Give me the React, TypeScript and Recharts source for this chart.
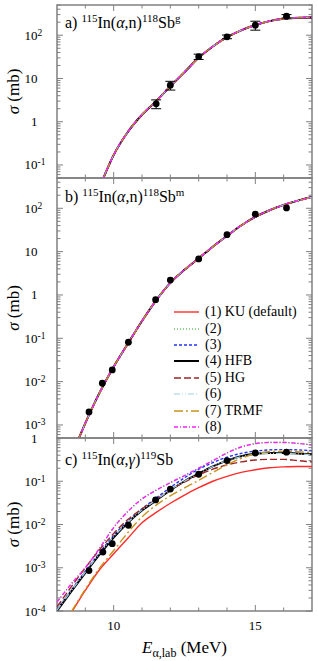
import {
  ComposedChart,
  ErrorBar,
  Legend,
  Line,
  ReferenceArea,
  Scatter,
  XAxis,
  YAxis,
} from "recharts";

const FONT = "'Liberation Serif', 'Times New Roman', 'DejaVu Serif', serif";
const GREY = "#808080";
const PLOT_W = 255;

// x axis (E alpha, lab in MeV)
const xTicks = [9, 10, 11, 12, 13, 14, 15, 16];

// a) 115In(a,n)118Sb g : all level densities give the same curve
const energyA = [9.5, 10, 10.5, 11, 11.5, 12, 12.5, 13, 13.5, 14, 14.5, 15, 15.5, 16, 16.5, 17];
const sigmaA = [0.03, 0.17, 0.58, 1.45, 3.0, 6.6, 14, 30, 55, 90, 130, 172, 212, 240, 255, 258];
const expEA = [11.5, 12.0, 13.0, 14.0, 15.0, 16.1];
const expSA = [2.6, 7.0, 32, 92, 171, 275];
const expErrA = [0.6, 1.6, 4.5, 9, 40, 25];
const majorsA = [0.1, 1, 10, 100];

// b) 115In(a,n)118Sb m
const energyB = [8.5, 9, 9.5, 10, 10.5, 11, 11.5, 12, 12.5, 13, 13.5, 14, 14.5, 15, 15.5, 16, 16.5, 17];
const sigmaB = [1.8e-4, 1.1e-3, 5.5e-3, 2.2e-2, 7.5e-2, 0.25, 0.75, 1.9, 3.8, 7.0, 13, 23, 40, 63, 90, 120, 150, 182];
const expEB = [9.13, 9.6, 9.95, 10.52, 11.48, 12.0, 13.0, 14.0, 15.0, 16.1];
const expSB = [2.0e-3, 9.2e-3, 1.86e-2, 8.1e-2, 0.78, 2.2, 6.8, 24.6, 73, 102];
const majorsB = [1e-3, 1e-2, 0.1, 1, 10, 100];

// c) 115In(a,g)119Sb
const energyC = [8, 8.5, 9, 9.5, 10, 10.5, 11, 11.5, 12, 12.5, 13, 13.5, 14, 14.5, 15, 15.5, 16, 16.5, 17];
const ku = [null, 9e-5, 3e-4, 9e-4, 2.1e-3, 4.8e-3, 1.1e-2, 1.9e-2, 3.1e-2, 4.8e-2, 7.1e-2, 0.1, 0.13, 0.16, 0.185, 0.205, 0.215, 0.22, 0.22];
const ld2 = [1.6e-4, 4.2e-4, 1.0e-3, 2.8e-3, 8.5e-3, 2.0e-2, 3.9e-2, 6.2e-2, 9.3e-2, 0.135, 0.2, 0.3, 0.45, 0.62, 0.74, 0.79, 0.79, 0.75, 0.69];
const ld3 = [1.1e-4, 3.0e-4, 8.3e-4, 2.2e-3, 5.6e-3, 1.2e-2, 2.3e-2, 4.1e-2, 7.2e-2, 0.12, 0.19, 0.27, 0.36, 0.44, 0.5, 0.53, 0.54, 0.53, 0.51];
const hfb = [1.0e-4, 2.8e-4, 7.6e-4, 2.0e-3, 5.0e-3, 1.1e-2, 2.1e-2, 3.6e-2, 6.2e-2, 0.1, 0.15, 0.22, 0.3, 0.38, 0.43, 0.45, 0.45, 0.44, 0.42];
const hg = [1.25e-4, 3.6e-4, 1.0e-3, 2.6e-3, 6.2e-3, 1.3e-2, 2.3e-2, 3.8e-2, 6.2e-2, 9.6e-2, 0.14, 0.19, 0.24, 0.28, 0.31, 0.32, 0.32, 0.3, 0.28];
const ld6 = [1.05e-4, 2.9e-4, 7.9e-4, 2.1e-3, 5.2e-3, 1.12e-2, 2.15e-2, 3.7e-2, 6.3e-2, 0.1, 0.15, 0.22, 0.3, 0.37, 0.42, 0.44, 0.44, 0.43, 0.41];
const trmf = [null, 9.5e-5, 3.2e-4, 9.8e-4, 2.5e-3, 6.5e-3, 1.5e-2, 2.8e-2, 4.6e-2, 7e-2, 0.105, 0.16, 0.24, 0.34, 0.43, 0.48, 0.49, 0.48, 0.46];
const ld8 = [1.6e-4, 4.2e-4, 1.0e-3, 2.8e-3, 8.5e-3, 2.0e-2, 3.9e-2, 6.2e-2, 9.3e-2, 0.135, 0.2, 0.3, 0.45, 0.62, 0.74, 0.79, 0.79, 0.75, 0.69];
const expEC = [9.13, 9.62, 9.95, 10.52, 11.48, 12.0, 13.0, 14.0, 15.0, 16.1];
const expSC = [8.6e-4, 2.3e-3, 3.6e-3, 9.6e-3, 3.7e-2, 6.6e-2, 0.145, 0.3, 0.45, 0.47];
const majorsC = [1e-4, 1e-3, 1e-2, 0.1, 1];

const models = [
  { key: "m1", name: "(1) KU (default)", color: "#ff2b2b", width: 1.4, dash: undefined as string | undefined },
  { key: "m2", name: "(2)", color: "#22a022", width: 1.2, dash: "1 2" },
  { key: "m3", name: "(3)", color: "#2233ff", width: 1.4, dash: "3 2" },
  { key: "m4", name: "(4) HFB", color: "#000000", width: 2, dash: undefined },
  { key: "m5", name: "(5) HG", color: "#9b2525", width: 1.4, dash: "7 3" },
  { key: "m6", name: "(6)", color: "#9fd0e2", width: 1.2, dash: "6 2 1 2 1 2" },
  { key: "m7", name: "(7) TRMF", color: "#c8921a", width: 1.4, dash: "9 3 2 3" },
  { key: "m8", name: "(8)", color: "#ff20ff", width: 1.4, dash: "4 2 1 2" },
];

const seriesC = [ku, ld2, ld3, hfb, hg, ld6, trmf, ld8];

function sameForAll(energy: number[], sigma: number[]) {
  return energy.map((e, i) => {
    const row: any = { e };
    models.forEach((m) => (row[m.key] = sigma[i]));
    return row;
  });
}

const rowsA = sameForAll(energyA, sigmaA);
const rowsB = sameForAll(energyB, sigmaB);
const rowsC = energyC.map((e, i) => {
  const row: any = { e };
  models.forEach((m, j) => (row[m.key] = seriesC[j][i]));
  return row;
});

const expA = expEA.map((e, i) => ({ e, s: expSA[i], err: expErrA[i] }));
const expB = expEB.map((e, i) => ({ e, s: expSB[i] }));
const expC = expEC.map((e, i) => ({ e, s: expSC[i] }));

function logTicks(majors: number[], lo: number, hi: number) {
  const out: number[] = [];
  for (let p = Math.floor(Math.log10(lo)); p <= Math.ceil(Math.log10(hi)); p++) {
    for (let m = 1; m <= 9; m++) {
      const v = +(m * Math.pow(10, p)).toPrecision(6);
      if (v >= lo * 0.9999 && v <= hi * 1.0001) out.push(v);
    }
  }
  return out.concat(majors.filter((v) => !out.includes(v)));
}

const makeYTick = () => (props: any) => {
  const { x, y, payload } = props;
  const lg = Math.log10(payload.value);
  const k = Math.round(lg);
  const major = Math.abs(lg - k) < 1e-6;
  const len = major ? 6 : 3.5;
  return (
    <g>
      <line x1={x} x2={x + len} y1={y} y2={y} stroke={GREY} />
      <line x1={x + PLOT_W} x2={x + PLOT_W - len} y1={y} y2={y} stroke={GREY} />
      {major && (
        <text x={x - 19.5} y={y + 4.5} textAnchor="end" fontSize={13} fontFamily={FONT} fill="#000">
          {k === 0 ? "1" : "10"}
        </text>
      )}
      {major && k !== 0 && k !== 1 && (
        <text x={x - 19.5} y={y + 0.5} fontSize={9.5} fontFamily={FONT} fill="#000">
          {k < 0 ? "-" + -k : String(k)}
        </text>
      )}
    </g>
  );
};

const makeXTick = (plotH: number, labels: boolean) => (props: any) => {
  const { x, y, payload } = props;
  const major = payload.value % 5 === 0;
  const len = major ? 6 : 3.5;
  return (
    <g>
      <line x1={x} x2={x} y1={y} y2={y - len} stroke={GREY} />
      <line x1={x} x2={x} y1={y - plotH} y2={y - plotH + len} stroke={GREY} />
      {labels && major && (
        <text x={x} y={y + 19} textAnchor="middle" fontSize={13} fontFamily={FONT} fill="#000">
          {payload.value}
        </text>
      )}
    </g>
  );
};

const yLabel = (props: any) => {
  const vb = props.viewBox;
  const cy = vb.y + vb.height / 2;
  return (
    <text transform={`translate(19, ${cy}) rotate(-90)`} textAnchor="middle" fontSize={17} fontFamily={FONT} fill="#000">
      <tspan fontStyle="italic">σ</tspan> (mb)
    </text>
  );
};

const xLabel = (props: any) => {
  const vb = props.viewBox;
  return (
    <text x={vb.x + vb.width / 2} y={vb.y + 42} textAnchor="middle" fontSize={17} fontFamily={FONT} fill="#000">
      <tspan fontStyle="italic">E</tspan>
      <tspan fontSize={12} dy={4}>α,lab</tspan>
      <tspan dy={-4}> (MeV)</tspan>
    </text>
  );
};

const renderLegend = (props: any) => (
  <div style={{ fontFamily: FONT, fontSize: 14, color: "#000" }}>
    {(props.payload || [])
      .filter((p: any) => models.some((m) => m.key === p.dataKey))
      .map((p: any) => {
        const m = models.find((mm) => mm.key === p.dataKey)!;
        return (
          <div key={m.key} style={{ display: "flex", alignItems: "center", height: 16.4 }}>
            <svg width={25} height={6}>
              <line x1={0} x2={25} y1={3} y2={3} stroke={m.color} strokeWidth={m.width} strokeDasharray={m.dash} />
            </svg>
            <span style={{ marginLeft: 6, lineHeight: "16px" }}>{p.value}</span>
          </div>
        );
      })}
  </div>
);

const dot = (p: any) => <circle cx={p.cx} cy={p.cy} r={3.4} fill="#000" />;

type PanelProps = {
  top: number;
  height: number;
  marginTop: number;
  xAxisHeight: number;
  plotH: number;
  domain: [number, number];
  majors: number[];
  rows: any[];
  exp: any[];
  withErr: boolean;
  bottomAxis: boolean;
  legend: boolean;
};

function Panel(p: PanelProps) {
  return (
    <div style={{ position: "absolute", left: 0, top: p.top }}>
      <ComposedChart
        width={318}
        height={p.height}
        data={p.rows}
        margin={{ top: p.marginTop, right: 6, bottom: 0, left: 0 }}
      >
        <XAxis
          dataKey="e"
          type="number"
          domain={[8, 17]}
          allowDataOverflow
          ticks={xTicks}
          interval={0}
          tickSize={0}
          tickMargin={0}
          axisLine={false}
          tickLine={false}
          height={p.xAxisHeight}
          tick={makeXTick(p.plotH, p.bottomAxis)}
          label={p.bottomAxis ? xLabel : undefined}
        />
        <YAxis
          type="number"
          scale="log"
          domain={p.domain}
          allowDataOverflow
          ticks={logTicks(p.majors, p.domain[0], p.domain[1])}
          interval={0}
          tickSize={0}
          tickMargin={0}
          axisLine={false}
          tickLine={false}
          width={57}
          tick={makeYTick()}
          label={yLabel}
        />
        <ReferenceArea x1={8} x2={17} y1={p.domain[0]} y2={p.domain[1]} fill="none" stroke={GREY} strokeWidth={1.5} />
        {models.map((m) => (
          <Line
            key={m.key}
            dataKey={m.key}
            name={m.name}
            type="monotone"
            stroke={m.color}
            strokeWidth={m.width}
            strokeDasharray={m.dash}
            dot={false}
            activeDot={false}
            isAnimationActive={false}
          />
        ))}
        <Scatter data={p.exp} dataKey="s" fill="#000" shape={dot} legendType="none" isAnimationActive={false}>
          {p.withErr && <ErrorBar dataKey="err" direction="y" width={5} stroke="#000" strokeWidth={1} />}
        </Scatter>
        {p.legend && (
          <Legend
            layout="vertical"
            align="center"
            verticalAlign="middle"
            content={renderLegend}
            wrapperStyle={{ left: 174, top: 134, width: 140 }}
          />
        )}
      </ComposedChart>
    </div>
  );
}

function Title({ x, y, letter, a, b, target, sup, reaction }: any) {
  return (
    <text x={x} y={y} fontSize={16} fontFamily={FONT} fill="#000">
      {letter}){" "}
      <tspan fontSize={11} dy={-6}>{a}</tspan>
      <tspan dy={6}>In(</tspan>
      <tspan fontStyle="italic">α</tspan>
      <tspan>,</tspan>
      <tspan fontStyle={reaction === "γ" ? "italic" : "normal"}>{reaction}</tspan>
      <tspan>)</tspan>
      <tspan fontSize={11} dy={-6}>{b}</tspan>
      <tspan dy={6}>{target}</tspan>
      {sup && <tspan fontSize={11} dy={-6}>{sup}</tspan>}
    </text>
  );
}

export default function App() {
  return (
    <div style={{ position: "absolute", left: 0, top: 0, width: 318, height: 661, background: "#fff", overflow: "hidden" }}>
      <Panel
        top={0}
        height={186}
        marginTop={5}
        xAxisHeight={8}
        plotH={173}
        domain={[0.05, 500]}
        majors={majorsA}
        rows={rowsA}
        exp={expA}
        withErr
        bottomAxis={false}
        legend={false}
      />
      <Panel
        top={170}
        height={276}
        marginTop={8}
        xAxisHeight={8}
        plotH={260}
        domain={[5e-4, 500]}
        majors={majorsB}
        rows={rowsB}
        exp={expB}
        withErr={false}
        bottomAxis={false}
        legend
      />
      <Panel
        top={420}
        height={241}
        marginTop={18}
        xAxisHeight={50}
        plotH={173}
        domain={[1e-4, 1]}
        majors={majorsC}
        rows={rowsC}
        exp={expC}
        withErr={false}
        bottomAxis
        legend={false}
      />
      <svg width={318} height={661} style={{ position: "absolute", left: 0, top: 0, pointerEvents: "none" }}>
        <Title x={65} y={28} letter="a" a="115" b="118" target="Sb" sup="g" reaction="n" />
        <Title x={65} y={202} letter="b" a="115" b="118" target="Sb" sup="m" reaction="n" />
        <Title x={65} y={465} letter="c" a="115" b="119" target="Sb" sup="" reaction="γ" />
      </svg>
    </div>
  );
}
